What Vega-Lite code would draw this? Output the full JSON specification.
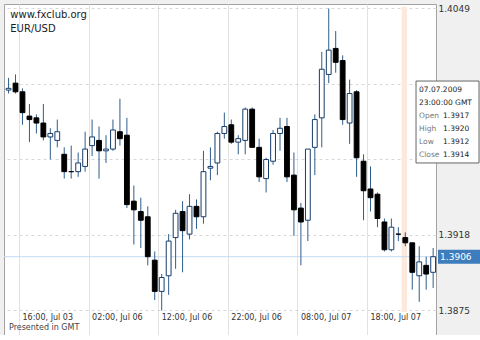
{
  "$schema": "https://vega.github.io/schema/vega-lite/v6.json",
  "width": 432,
  "height": 331,
  "padding": {"left": 3, "top": 4, "right": 0, "bottom": 0},
  "background": "#f0f0f0",
  "config": {
    "font": "DejaVu Sans",
    "view": {"stroke": "#a3a3a3", "fill": "white"}
  },
  "datasets": {
    "candles": [
      {"k":0,"t":"2009-07-03 14:00","o":1.4002,"h":1.4009,"l":1.4000,"c":1.4003},
      {"k":1,"t":"2009-07-03 15:00","o":1.4006,"h":1.4011,"l":1.4000,"c":1.4001},
      {"k":2,"t":"2009-07-03 16:00","o":1.4001,"h":1.4003,"l":1.3982,"c":1.3989},
      {"k":3,"t":"2009-07-03 17:00","o":1.3987,"h":1.3994,"l":1.3972,"c":1.3985},
      {"k":4,"t":"2009-07-03 18:00","o":1.3986,"h":1.3988,"l":1.3977,"c":1.3983},
      {"k":5,"t":"2009-07-03 19:00","o":1.3983,"h":1.3994,"l":1.3973,"c":1.3975},
      {"k":6,"t":"2009-07-03 20:00","o":1.3975,"h":1.3980,"l":1.3962,"c":1.3977},
      {"k":7,"t":"2009-07-05 21:00","o":1.3973,"h":1.3985,"l":1.3969,"c":1.3978},
      {"k":8,"t":"2009-07-05 22:00","o":1.3965,"h":1.3969,"l":1.3951,"c":1.3955},
      {"k":9,"t":"2009-07-05 23:00","o":1.3955,"h":1.3970,"l":1.3951,"c":1.3955},
      {"k":10,"t":"2009-07-06 00:00","o":1.3955,"h":1.3966,"l":1.3952,"c":1.3960},
      {"k":11,"t":"2009-07-06 01:00","o":1.3958,"h":1.3978,"l":1.3955,"c":1.3968},
      {"k":12,"t":"2009-07-06 02:00","o":1.3970,"h":1.3985,"l":1.3964,"c":1.3975},
      {"k":13,"t":"2009-07-06 03:00","o":1.3973,"h":1.3981,"l":1.3951,"c":1.3967},
      {"k":14,"t":"2009-07-06 04:00","o":1.3967,"h":1.3976,"l":1.3960,"c":1.3968},
      {"k":15,"t":"2009-07-06 05:00","o":1.3968,"h":1.3985,"l":1.3967,"c":1.3979},
      {"k":16,"t":"2009-07-06 06:00","o":1.3978,"h":1.3997,"l":1.3970,"c":1.3974},
      {"k":17,"t":"2009-07-06 07:00","o":1.3976,"h":1.3986,"l":1.3934,"c":1.3936},
      {"k":18,"t":"2009-07-06 08:00","o":1.3938,"h":1.3947,"l":1.3913,"c":1.3933},
      {"k":19,"t":"2009-07-06 09:00","o":1.3932,"h":1.3940,"l":1.3911,"c":1.3927},
      {"k":20,"t":"2009-07-06 10:00","o":1.3929,"h":1.3935,"l":1.3901,"c":1.3906},
      {"k":21,"t":"2009-07-06 11:00","o":1.3904,"h":1.3909,"l":1.3881,"c":1.3886},
      {"k":22,"t":"2009-07-06 12:00","o":1.3886,"h":1.3896,"l":1.3875,"c":1.3894},
      {"k":23,"t":"2009-07-06 13:00","o":1.3895,"h":1.3919,"l":1.3884,"c":1.3915},
      {"k":24,"t":"2009-07-06 14:00","o":1.3917,"h":1.3933,"l":1.3899,"c":1.3931},
      {"k":25,"t":"2009-07-06 15:00","o":1.3932,"h":1.3938,"l":1.3897,"c":1.3921},
      {"k":26,"t":"2009-07-06 16:00","o":1.3919,"h":1.3942,"l":1.3916,"c":1.3935},
      {"k":27,"t":"2009-07-06 17:00","o":1.3935,"h":1.3939,"l":1.3922,"c":1.3929},
      {"k":28,"t":"2009-07-06 18:00","o":1.3929,"h":1.3967,"l":1.3925,"c":1.3955},
      {"k":29,"t":"2009-07-06 19:00","o":1.3957,"h":1.3969,"l":1.3950,"c":1.3958},
      {"k":30,"t":"2009-07-06 20:00","o":1.3960,"h":1.3978,"l":1.3953,"c":1.3977},
      {"k":31,"t":"2009-07-06 21:00","o":1.3977,"h":1.3989,"l":1.3974,"c":1.3981},
      {"k":32,"t":"2009-07-06 22:00","o":1.3982,"h":1.3985,"l":1.3971,"c":1.3972},
      {"k":33,"t":"2009-07-06 23:00","o":1.3972,"h":1.3976,"l":1.3965,"c":1.3974},
      {"k":34,"t":"2009-07-07 00:00","o":1.3973,"h":1.3992,"l":1.3965,"c":1.3991},
      {"k":35,"t":"2009-07-07 01:00","o":1.3991,"h":1.3992,"l":1.3969,"c":1.3969},
      {"k":36,"t":"2009-07-07 02:00","o":1.3969,"h":1.3974,"l":1.3949,"c":1.3952},
      {"k":37,"t":"2009-07-07 03:00","o":1.3951,"h":1.3963,"l":1.3943,"c":1.3962},
      {"k":38,"t":"2009-07-07 04:00","o":1.3961,"h":1.3979,"l":1.3959,"c":1.3977},
      {"k":39,"t":"2009-07-07 05:00","o":1.3977,"h":1.3986,"l":1.3967,"c":1.3980},
      {"k":40,"t":"2009-07-07 06:00","o":1.3981,"h":1.3986,"l":1.3949,"c":1.3952},
      {"k":41,"t":"2009-07-07 07:00","o":1.3953,"h":1.3966,"l":1.3918,"c":1.3933},
      {"k":42,"t":"2009-07-07 08:00","o":1.3934,"h":1.3937,"l":1.3901,"c":1.3926},
      {"k":43,"t":"2009-07-07 09:00","o":1.3927,"h":1.3968,"l":1.3915,"c":1.3968},
      {"k":44,"t":"2009-07-07 10:00","o":1.3969,"h":1.3988,"l":1.3953,"c":1.3985},
      {"k":45,"t":"2009-07-07 11:00","o":1.3986,"h":1.4024,"l":1.3969,"c":1.4014},
      {"k":46,"t":"2009-07-07 12:00","o":1.4011,"h":1.4049,"l":1.4006,"c":1.4025},
      {"k":47,"t":"2009-07-07 13:00","o":1.4026,"h":1.4036,"l":1.4012,"c":1.4018},
      {"k":48,"t":"2009-07-07 14:00","o":1.4019,"h":1.4022,"l":1.3982,"c":1.3985},
      {"k":49,"t":"2009-07-07 15:00","o":1.3983,"h":1.4008,"l":1.3971,"c":1.4000},
      {"k":50,"t":"2009-07-07 16:00","o":1.4001,"h":1.4002,"l":1.3952,"c":1.3963},
      {"k":51,"t":"2009-07-07 17:00","o":1.3961,"h":1.3965,"l":1.3927,"c":1.3944},
      {"k":52,"t":"2009-07-07 18:00","o":1.3945,"h":1.3958,"l":1.3932,"c":1.3940},
      {"k":53,"t":"2009-07-07 19:00","o":1.3942,"h":1.3943,"l":1.3923,"c":1.3928},
      {"k":54,"t":"2009-07-07 20:00","o":1.3926,"h":1.3928,"l":1.3909,"c":1.3910},
      {"k":55,"t":"2009-07-07 21:00","o":1.3910,"h":1.3928,"l":1.3909,"c":1.3923},
      {"k":56,"t":"2009-07-07 22:00","o":1.3919,"h":1.3923,"l":1.3915,"c":1.3919},
      {"k":57,"t":"2009-07-07 23:00","o":1.3917,"h":1.3920,"l":1.3912,"c":1.3914},
      {"k":58,"t":"2009-07-08 00:00","o":1.3914,"h":1.3914,"l":1.3887,"c":1.3897},
      {"k":59,"t":"2009-07-08 01:00","o":1.3895,"h":1.3912,"l":1.3880,"c":1.3903},
      {"k":60,"t":"2009-07-08 02:00","o":1.3901,"h":1.3906,"l":1.3887,"c":1.3896},
      {"k":61,"t":"2009-07-08 03:00","o":1.3897,"h":1.3911,"l":1.3888,"c":1.3906}
    ]
  },
  "data": {"name": "candles"},
  "layer": [
    {
      "transform": [{"filter": "datum.k == 57"}],
      "mark": {"type": "bar", "size": 5.5, "color": "#fde9dc", "xOffset": -1},
      "encoding": {
        "x": {"field": "k", "type": "quantitative"},
        "y": {"datum": 1.4050, "type": "quantitative"},
        "y2": {"datum": 1.38742}
      }
    },
    {
      "data": {"values": [{}]},
      "mark": {"type": "rule", "color": "#c3daf0", "strokeWidth": 1},
      "encoding": {"y": {"datum": 1.3906, "type": "quantitative"}}
    },
    {
      "mark": {"type": "rule", "color": "#2f5d8c", "strokeWidth": 1},
      "encoding": {
        "x": {
          "field": "k", "type": "quantitative",
          "scale": {"domain": [-0.655, 61.41], "nice": false, "zero": false, "padding": 0},
          "axis": {
            "title": null,
            "values": [1.5, 11.5, 21.5, 31.5, 41.5, 51.5],
            "labelExpr": "['16:00, Jul 03','02:00, Jul 06','12:00, Jul 06','22:00, Jul 06','08:00, Jul 07','18:00, Jul 07'][round((datum.value-1.5)/10)]",
            "domain": false, "ticks": false, "tickSize": 0,
            "labelPadding": -22, "labelAlign": "left", "labelOffset": 3,
            "labelBaseline": "top", "labelFontSize": 8, "labelColor": "#333333",
            "labelFlush": false, "labelOverlap": false,
            "grid": true, "gridColor": "#e2e2e2", "gridWidth": 1
          }
        },
        "y": {
          "field": "l", "type": "quantitative",
          "scale": {"domain": [1.386088, 1.405159], "nice": false, "zero": false, "padding": 0},
          "axis": {
            "title": null, "orient": "right",
            "values": [1.3875, 1.39185, 1.3962, 1.40055, 1.4049],
            "labelExpr": "datum.value > 1.404 ? '1.4049' : (abs(datum.value - 1.39185) < 0.0001 ? '1.3918' : (datum.value < 1.388 ? '1.3875' : ''))",
            "domain": false, "ticks": false, "tickSize": 0,
            "labelPadding": 2, "labelFontSize": 9, "labelColor": "#333333",
            "labelOverlap": false, "labelFlush": false,
            "grid": true, "gridColor": "#d8d8d8", "gridDash": [3, 3], "gridWidth": 1
          }
        },
        "y2": {"field": "h"}
      }
    },
    {
      "mark": {"type": "bar", "size": 4.8, "strokeWidth": 1},
      "encoding": {
        "x": {"field": "k", "type": "quantitative"},
        "y": {"field": "o", "type": "quantitative"},
        "y2": {"field": "c"},
        "fill": {"condition": {"test": "datum.c > datum.o", "value": "#ffffff"}, "value": "#000000"},
        "stroke": {"condition": {"test": "datum.c > datum.o", "value": "#163d6b"}, "value": "#000000"}
      }
    },
    {
      "data": {"values": [{}]},
      "mark": {"type": "text", "align": "left", "baseline": "middle", "fontSize": 10, "color": "#1a1a1a", "text": "www.fxclub.org"},
      "encoding": {"x": {"datum": 0.25, "type": "quantitative"}, "y": {"datum": 1.404554, "type": "quantitative"}}
    },
    {
      "data": {"values": [{}]},
      "mark": {"type": "text", "align": "left", "baseline": "middle", "fontSize": 10, "color": "#1a1a1a", "text": "EUR/USD"},
      "encoding": {"x": {"datum": 0.25, "type": "quantitative"}, "y": {"datum": 1.403702, "type": "quantitative"}}
    },
    {
      "data": {"values": [{}]},
      "mark": {"type": "text", "align": "left", "baseline": "middle", "fontSize": 8, "color": "#444444", "text": "Presented in GMT"},
      "encoding": {"x": {"datum": 0.06, "type": "quantitative"}, "y": {"datum": 1.386492, "type": "quantitative"}}
    },
    {
      "data": {"values": [{}]},
      "mark": {"type": "rect", "fill": "#ffffff", "stroke": "#666666", "strokeWidth": 1, "clip": false},
      "encoding": {
        "x": {"datum": 58.54, "type": "quantitative"},
        "x2": {"datum": 67.59},
        "y": {"datum": 1.40072, "type": "quantitative"},
        "y2": {"datum": 1.39600}
      }
    },
    {
      "data": {"values": [{}]},
      "mark": {"type": "text", "align": "left", "baseline": "top", "fontSize": 7.5, "lineHeight": 13.1, "color": "#222222", "clip": false, "text": ["07.07.2009", "23:00:00 GMT"]},
      "encoding": {"x": {"datum": 58.97, "type": "quantitative"}, "y": {"datum": 1.40046, "type": "quantitative"}}
    },
    {
      "data": {"values": [{}]},
      "mark": {"type": "text", "align": "left", "baseline": "top", "fontSize": 7.5, "lineHeight": 13.1, "color": "#777777", "clip": false, "text": ["Open", "High", "Low", "Close"]},
      "encoding": {"x": {"datum": 58.97, "type": "quantitative"}, "y": {"datum": 1.39895, "type": "quantitative"}}
    },
    {
      "data": {"values": [{}]},
      "mark": {"type": "text", "align": "left", "baseline": "top", "fontSize": 7.5, "lineHeight": 13.1, "color": "#222222", "clip": false, "text": ["1.3917", "1.3920", "1.3912", "1.3914"]},
      "encoding": {"x": {"datum": 62.42, "type": "quantitative"}, "y": {"datum": 1.39895, "type": "quantitative"}}
    },
    {
      "data": {"values": [{}]},
      "mark": {"type": "rect", "fill": "#3d7cbd", "clip": false},
      "encoding": {
        "x": {"datum": 61.70, "type": "quantitative"},
        "x2": {"datum": 67.9},
        "y": {"datum": 1.391, "type": "quantitative"},
        "y2": {"datum": 1.3902}
      }
    },
    {
      "data": {"values": [{}]},
      "mark": {"type": "text", "align": "left", "baseline": "middle", "fontSize": 9, "color": "#ffffff", "clip": false, "text": "1.3906"},
      "encoding": {"x": {"datum": 62.0, "type": "quantitative"}, "y": {"datum": 1.3906, "type": "quantitative"}}
    }
  ]
}
